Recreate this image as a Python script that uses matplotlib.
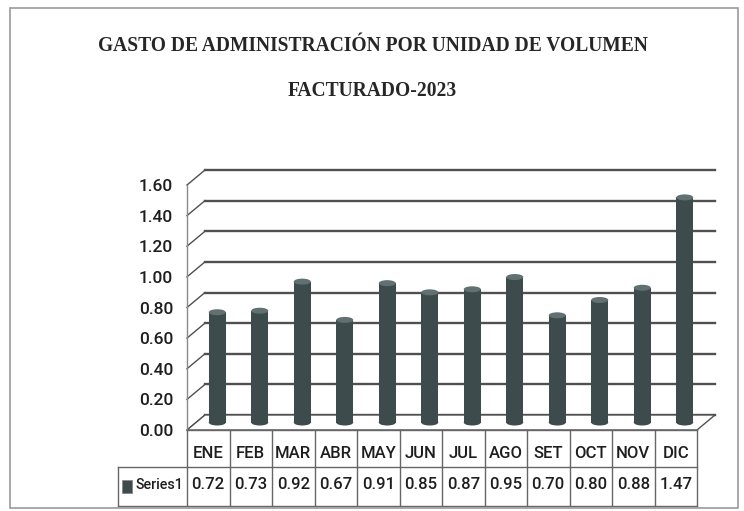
import matplotlib
matplotlib.use("Agg")
import matplotlib.pyplot as plt
from matplotlib import font_manager
from matplotlib.patches import Ellipse, Polygon, Rectangle

# Data
months = ["ENE", "FEB", "MAR", "ABR", "MAY", "JUN", "JUL", "AGO", "SET", "OCT", "NOV", "DIC"]
gasto = [0.72, 0.73, 0.92, 0.67, 0.91, 0.85, 0.87, 0.95, 0.70, 0.80, 0.88, 1.47]
series_name = "Series1"
y_ticks = [0.0, 0.2, 0.4, 0.6, 0.8, 1.0, 1.2, 1.4, 1.6]
title_lines = ["GASTO DE ADMINISTRACIÓN POR UNIDAD DE VOLUMEN", "FACTURADO-2023"]

# narrowest bold serif we can find for the heading
installed = {f.name for f in font_manager.fontManager.ttflist}
title_font = "DejaVu Serif"
for name in ["DejaVu Serif Condensed", "Liberation Serif", "DejaVu Serif"]:
    if name in installed:
        title_font = name
        break

plt.rcParams['font.family'] = ['Roboto', 'DejaVu Sans']

W, H = 744, 511
fig = plt.figure(figsize=(W / 100, H / 100), dpi=100)
fig.patch.set_facecolor("white")


def fx(px):
    return px / W


def fy(py):
    return 1 - py / H


def fit_width(t, width_px):
    r = fig.canvas.get_renderer()
    w = t.get_window_extent(r).width
    t.set_fontsize(t.get_fontsize() * width_px / w)


grid_col = "#505050"
bar_col = "#3e4b4c"
cap_col = "#617071"
text_col = "#1e1e1e"

# chart border
fig.patches.append(Rectangle((fx(10), fy(508)), fx(738) - fx(10), fy(8) - fy(508),
                             transform=fig.transFigure, fill=False,
                             edgecolor="#9a9a9a", lw=1.2))

# title, two lines
t1 = fig.text(fx(373), fy(46), title_lines[0], ha="center", va="center",
              fontsize=16, fontweight="bold", color="#262626", family=title_font)
t2 = fig.text(fx(372), fy(91), title_lines[1], ha="center", va="center",
              fontsize=16, fontweight="bold", color="#262626", family=title_font)
fit_width(t1, 552)
t2.set_fontsize(t1.get_fontsize())

# front plane of the 3-D plot
left, right, bottom, top = 187, 697, 430, 185
ax = fig.add_axes([fx(left), fy(bottom), (right - left) / W, (bottom - top) / H])
ax.set_xlim(-0.5, len(months) - 0.5)
ax.set_ylim(0, 1.6)
ax.patch.set_visible(False)

# depth of the box in data units (18 px right, 15 px up)
px_x = (right - left) / len(months)
px_y = (bottom - top) / 1.6
dx = 18 / px_x
dy = 15 / px_y
x0, x1 = -0.5, len(months) - 0.5

# back wall gridlines and side-wall diagonals
for v in y_ticks:
    ax.plot([x0 + dx, x1 + dx], [v + dy, v + dy], color=grid_col, lw=1.7, clip_on=False, zorder=1)
    ax.plot([x0, x0 + dx], [v, v + dy], color=grid_col, lw=1.0, clip_on=False, zorder=1)

# floor
floor = Polygon([(x0, 0), (x1, 0), (x1 + dx, dy), (x0 + dx, dy)], closed=True,
                facecolor="white", edgecolor=grid_col, lw=1.0, clip_on=False, zorder=1.5)
ax.add_patch(floor)

# cylinders (middle of the depth)
xs = [i + dx / 2 for i in range(len(months))]
bw = 0.4
cap_h = 6 / px_y
ax.bar(xs, gasto, width=bw, bottom=dy / 2, color=bar_col, clip_on=False, zorder=3)
for x, v in zip(xs, gasto):
    ax.add_patch(Ellipse((x, dy / 2), bw, cap_h, facecolor=bar_col, edgecolor="none",
                         clip_on=False, zorder=3))
    ax.add_patch(Ellipse((x, v + dy / 2), bw, cap_h, facecolor=cap_col, edgecolor="none",
                         clip_on=False, zorder=4))

# front vertical axis with value labels
for s in ["top", "right", "bottom"]:
    ax.spines[s].set_visible(False)
ax.spines["left"].set_color("#8a8a8a")
ax.spines["left"].set_linewidth(1.0)
ax.set_xticks([])
ax.set_yticks(y_ticks)
ax.set_yticklabels([f"{v:.2f}" for v in y_ticks], fontweight="medium")
ax.tick_params(axis="y", length=0, pad=10, labelsize=12.5, labelcolor=text_col)

# data table below the plot
t_left, t_top, t_bottom = 118, 430, 506
tax = fig.add_axes([fx(t_left), fy(t_bottom), (right - t_left) / W, (t_bottom - t_top) / H])
lab_w = (left - t_left) / px_x
tx0 = x0 - lab_w
tax.set_xlim(tx0, x1)
tax.set_ylim(0, 1)
tax.axis("off")
div = 39 / (t_bottom - t_top)
line_kw = dict(color="#666666", lw=1.0, clip_on=False)
tax.plot([x0, x1], [1, 1], **line_kw)
tax.plot([tx0, x1], [div, div], **line_kw)
tax.plot([tx0, x1], [0, 0], **line_kw)
tax.plot([tx0, tx0], [0, div], **line_kw)
for k in range(len(months) + 1):
    tax.plot([x0 + k, x0 + k], [0, 1], **line_kw)

cell_kw = dict(ha="center", va="center", fontsize=12, fontweight="medium", color=text_col)
for i, (m, v) in enumerate(zip(months, gasto)):
    tax.text(i, (1 + div) / 2 - 0.07, m, **cell_kw)
    tax.text(i, div / 2 + 0.02, f"{v:.2f}", **cell_kw)

# legend key and series name
tax.add_patch(Rectangle((tx0 + 4 / px_x, div / 2 - 0.08), 10 / px_x, 0.16,
                        facecolor=bar_col, edgecolor="#888888", lw=0.6))
tax.text(tx0 + 17 / px_x, div / 2 + 0.02, series_name, ha="left", va="center",
         fontsize=10.3, fontweight="medium", color=text_col)

fig.savefig("out.png", dpi=100)
